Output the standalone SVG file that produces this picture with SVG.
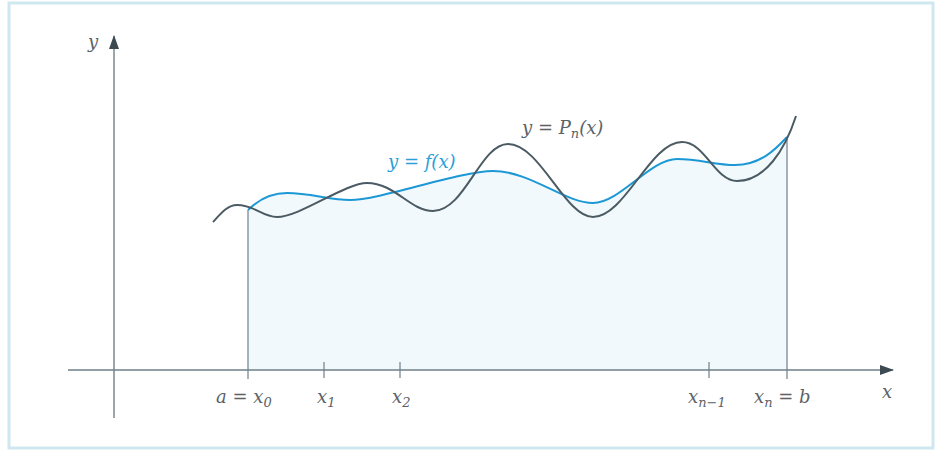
<svg xmlns="http://www.w3.org/2000/svg" width="939" height="453" viewBox="0 0 939 453">
<defs>
<style>
.axis{stroke:#6f7f89;stroke-width:1.4;fill:none}
.tick{stroke:#6f7f89;stroke-width:1.2}
text{font-family:'DejaVu Serif','Liberation Serif',serif;font-style:italic;font-size:18px;fill:#5a6268}
.sub{font-size:13px}
</style>
<marker id="arrx" viewBox="0 0 14 10" refX="13" refY="5" markerWidth="14" markerHeight="10" markerUnits="userSpaceOnUse" orient="auto">
<path d="M0,0 L14,5 L0,10 Z" fill="#3d4a52"/>
</marker>
</defs>
<rect x="0" y="0" width="939" height="453" fill="#ffffff"/>
<rect id="frame" x="9" y="3" width="924" height="445" fill="#ffffff" stroke="#cfe7ef" stroke-width="3"/>
<g id="area">
<path d="M248,210 C258,200 270,193 287,193 C310,193 330,200 350,200 C380,200 460,171 493,171 C530,171 565,203 593,203 C620,203 650,159 677,159 C700,159 715,165 735,165 C760,165 775,150 787,137 L787,370 L248,370 Z" fill="#f2f9fc"/>
</g>
<g id="connectors">
<line class="axis" x1="114" y1="418" x2="114" y2="36" marker-end="url(#arrx)"/>
<line class="axis" x1="68" y1="370" x2="893" y2="370" marker-end="url(#arrx)"/>
<line class="tick" x1="248" y1="210" x2="248" y2="379"/>
<line class="tick" x1="787" y1="137" x2="787" y2="379"/>
<line class="tick" x1="324" y1="362" x2="324" y2="378"/>
<line class="tick" x1="400" y1="362" x2="400" y2="378"/>
<line class="tick" x1="709" y1="362" x2="709" y2="378"/>
</g>
<g id="curve-f">
<path d="M248,210 C258,200 270,193 287,193 C310,193 330,200 350,200 C380,200 460,171 493,171 C530,171 565,203 593,203 C620,203 650,159 677,159 C700,159 715,165 735,165 C760,165 775,150 787,137" fill="none" stroke="#1b98d5" stroke-width="2"/>
</g>
<g id="curve-p">
<path d="M213,222 C222,212 228,205 237,205 C255,205 262,217 277,217 C300,217 345,183 367,183 C395,183 410,211 433,211 C465,211 480,144 508,144 C540,144 565,217 593,217 C625,217 650,142 682,142 C705,142 715,181 737,181 C765,181 785,150 796,116" fill="none" stroke="#4b5b64" stroke-width="2"/>
</g>
<g id="labels">
<text x="88" y="48">y</text>
<text x="882" y="398">x</text>
<text x="522" y="134">y = P<tspan class="sub" dy="4">n</tspan><tspan dy="-4">(x)</tspan></text>
<text x="388" y="168" style="fill:#2a9fd8">y = f(x)</text>
<text x="216" y="403">a = x<tspan class="sub" dy="4">0</tspan></text>
<text x="317" y="403">x<tspan class="sub" dy="4">1</tspan></text>
<text x="392" y="403">x<tspan class="sub" dy="4">2</tspan></text>
<text x="688" y="403">x<tspan class="sub" dy="4">n−1</tspan></text>
<text x="754" y="403">x<tspan class="sub" dy="4">n</tspan><tspan dy="-4"> = b</tspan></text>
</g>
</svg>
